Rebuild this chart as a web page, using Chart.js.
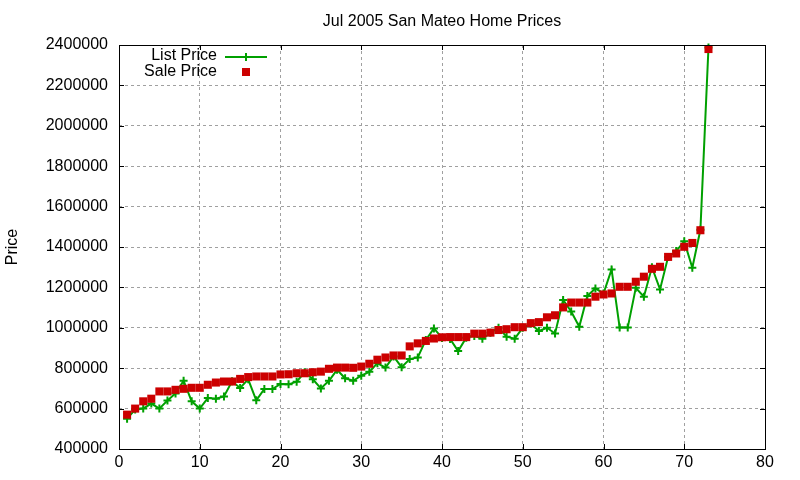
<!DOCTYPE html>
<html>
<head>
<meta charset="utf-8">
<title>Jul 2005 San Mateo Home Prices</title>
<script src="https://cdn.jsdelivr.net/npm/chart.js@4.4.1/dist/chart.umd.min.js"></script>
<style>
  html, body { margin: 0; padding: 0; background: #fff; }
  #wrap { width: 800px; height: 480px; }
</style>
</head>
<body>
<div id="wrap"><canvas id="chartCanvas" width="800" height="480"></canvas></div>
<script>
// Home index (x position) for each listing
const homeIndex = [
   1,  2,  3,  4,  5,  6,  7,  8,  9, 10, 11, 12, 13, 14, 15, 16, 17, 18, 19, 20,
  21, 22, 23, 24, 25, 26, 27, 28, 29, 30, 31, 32, 33, 34, 35, 36, 37, 38, 39, 40,
  41, 42, 43, 44, 45, 46, 47, 48, 49, 50, 51, 52, 53, 54, 55, 56, 57, 58, 59, 60,
  61, 62, 63, 64, 65, 66, 67, 68, 69, 70, 71, 72, 73
];

// List price per home
const listPrice = [
  550000, 595000, 600000, 625000, 600000, 640000, 675000, 738000, 636000, 600000,
  652000, 649000, 660000, 735000, 702000, 745000, 641000, 697000, 697000, 722000,
  720000, 733000, 780000, 745000, 700000, 738000, 792000, 750000, 738000, 763000,
  782000, 825000, 803000, 858000, 805000, 845000, 853000, 940000, 997000, 950000,
  945000, 885000, 951000, 960000, 946000, 975000, 1000000, 956000, 946000, 1000000,
  1020000, 984000, 1000000, 972000, 1138000, 1081000, 1005000, 1158000, 1195000, 1170000,
  1289000, 1001000, 1001000, 1198000, 1154000, 1300000, 1190000, 1350000, 1380000, 1428000,
  1297000, 1485000, 2388000
];

// Sale price per home
const salePrice = [
  570000, 600000, 636000, 649000, 685000, 685000, 693000, 698000, 703000, 703000,
  718000, 729000, 734000, 734000, 747000, 756000, 759000, 759000, 759000, 769000,
  770000, 775000, 775000, 780000, 783000, 797000, 803000, 803000, 802000, 808000,
  822000, 842000, 853000, 863000, 863000, 908000, 923000, 935000, 947000, 953000,
  954000, 954000, 954000, 971000, 971000, 976000, 989000, 993000, 1003000, 1003000,
  1023000, 1028000, 1052000, 1062000, 1101000, 1125000, 1125000, 1125000, 1154000, 1165000,
  1170000, 1203000, 1203000, 1228000, 1253000, 1292000, 1302000, 1351000, 1368000, 1401000,
  1420000, 1483000, 2380000
];

// Axis ticks
const xTicks = [0, 10, 20, 30, 40, 50, 60, 70, 80];
const yTicks = [400000, 600000, 800000, 1000000, 1200000, 1400000, 1600000, 1800000, 2000000, 2200000, 2400000];

const GREEN = '#00a000';
const RED = '#cc0000';
const FONT = '"Liberation Sans", Arial, sans-serif';

const toPoints = (ys) => homeIndex.map((x, i) => ({ x: x, y: ys[i] }));

// gnuplot style border with inward ticks on all four sides
const framePlugin = {
    id: 'frame',
    afterDatasetsDraw(chart) {
        const { ctx, chartArea: a, scales } = chart;
        const len = 5;
        ctx.save();
        ctx.strokeStyle = '#000';
        ctx.lineWidth = 1;
        ctx.beginPath();
        scales.x.ticks.forEach(t => {
            const px = Math.round(scales.x.getPixelForValue(t.value)) + 0.5;
            ctx.moveTo(px, a.bottom); ctx.lineTo(px, a.bottom - len);
            ctx.moveTo(px, a.top); ctx.lineTo(px, a.top + len);
        });
        scales.y.ticks.forEach(t => {
            const py = Math.round(scales.y.getPixelForValue(t.value)) + 0.5;
            ctx.moveTo(a.left, py); ctx.lineTo(a.left + len, py);
            ctx.moveTo(a.right, py); ctx.lineTo(a.right - len, py);
        });
        ctx.stroke();
        ctx.strokeRect(Math.round(a.left) + 0.5, Math.round(a.top) + 0.5,
                       Math.round(a.right - a.left), Math.round(a.bottom - a.top));
        ctx.restore();
    }
};

// key in the top left corner: text first, sample on the right
const keyPlugin = {
    id: 'key',
    afterDraw(chart) {
        const ctx = chart.ctx;
        const ds = chart.data.datasets;
        const textRight = 217, sampleMid = 246;
        const rowY = [56, 72];
        ctx.save();
        ctx.font = '16px ' + FONT;
        ctx.fillStyle = '#000';
        ctx.textAlign = 'right';
        ctx.textBaseline = 'middle';
        ds.forEach((d, i) => {
            ctx.fillText(d.label, textRight, rowY[i]);
        });
        // list price sample: line with cross
        ctx.strokeStyle = ds[0].borderColor;
        ctx.lineWidth = 2;
        ctx.beginPath();
        ctx.moveTo(225, rowY[0] + 1); ctx.lineTo(267, rowY[0] + 1);
        ctx.moveTo(sampleMid, rowY[0] + 1 - 4); ctx.lineTo(sampleMid, rowY[0] + 1 + 4);
        ctx.stroke();
        // sale price sample: square
        ctx.fillStyle = ds[1].backgroundColor;
        ctx.fillRect(sampleMid - 4, rowY[1] - 4, 8, 8);
        ctx.restore();
    }
};

const ctx = document.getElementById('chartCanvas');
new Chart(ctx, {
    type: 'line',
    data: {
        datasets: [{
            label: 'List Price',
            data: toPoints(listPrice),
            borderColor: GREEN,
            backgroundColor: GREEN,
            borderWidth: 2,
            pointStyle: 'cross',
            pointRadius: 4,
            pointBorderWidth: 2,
            pointBorderColor: GREEN,
            tension: 0,
            fill: false,
            clip: false,
            order: 1
        }, {
            label: 'Sale Price',
            data: toPoints(salePrice),
            showLine: false,
            borderColor: RED,
            backgroundColor: RED,
            pointStyle: 'rect',
            pointRadius: 5.7,
            pointBorderWidth: 0,
            pointBackgroundColor: RED,
            clip: false,
            order: 0
        }]
    },
    options: {
        responsive: false,
        animation: false,
        layout: { padding: { top: 0, right: 35, bottom: 0, left: 0 } },
        plugins: {
            legend: { display: false },
            tooltip: { enabled: false },
            title: {
                display: true,
                text: 'Jul 2005 San Mateo Home Prices',
                fullSize: false,
                color: '#000',
                font: { family: FONT, size: 16, weight: 'normal' },
                padding: { top: 12, bottom: 13.8 }
            }
        },
        scales: {
            x: {
                type: 'linear',
                min: 0,
                max: 80,
                afterBuildTicks: (s) => { s.ticks = xTicks.map(v => ({ value: v })); },
                afterFit: (s) => { s.height = 31; },
                grid: { color: '#a0a0a0', lineWidth: 1, drawTicks: false },
                border: { display: false, dash: [3, 3] },
                ticks: {
                    color: '#000',
                    padding: 4,
                    maxRotation: 0,
                    font: { family: FONT, size: 16 },
                    callback: (v) => String(v)
                }
            },
            y: {
                type: 'linear',
                min: 400000,
                max: 2400000,
                afterBuildTicks: (s) => { s.ticks = yTicks.map(v => ({ value: v })); },
                afterFit: (s) => { s.width = 119; },
                grid: { color: '#a0a0a0', lineWidth: 1, drawTicks: false },
                border: { display: false, dash: [3, 3] },
                title: {
                    display: true,
                    text: 'Price',
                    color: '#000',
                    font: { family: FONT, size: 16 },
                    padding: { top: 3, bottom: 0 }
                },
                ticks: {
                    color: '#000',
                    padding: 11,
                    font: { family: FONT, size: 16 },
                    callback: (v) => String(v)
                }
            }
        }
    },
    plugins: [framePlugin, keyPlugin]
});
</script>
</body>
</html>
